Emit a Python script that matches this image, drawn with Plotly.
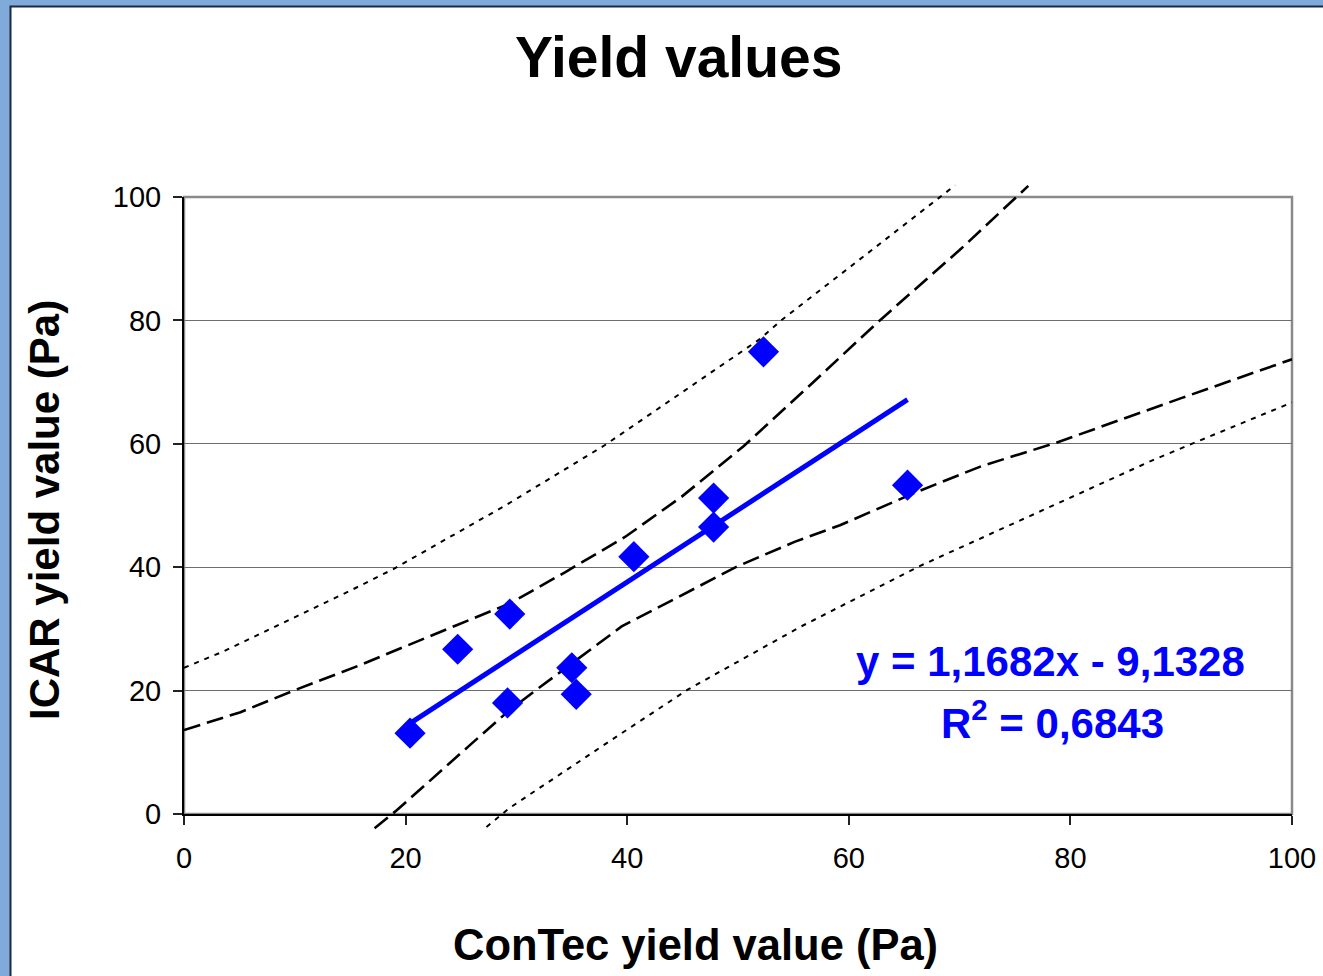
import plotly.graph_objects as go

# Measured yield values (Pa)
contec = [20.4, 24.7, 29.4, 29.2, 35.0, 35.4, 40.6, 47.8, 47.8, 52.3, 65.3]
icar = [13.1, 26.7, 32.4, 18.0, 23.7, 19.4, 41.7, 51.2, 46.5, 74.9, 53.3]

# Linear trend (as printed on the chart)
slope = 1.1682
intercept = -9.1328
r_squared = 0.6843

# Confidence band (dashed) and prediction band (dotted) curves
ci_upper_x = [0, 5.1, 9.9, 15.7, 24.6, 29.5, 34.5, 39.8, 44.9, 50.5, 56.5, 62.8, 70.0, 76.2]
ci_upper_y = [13.6, 16.5, 20.0, 24.0, 30.6, 34.2, 39.3, 44.9, 51.4, 59.6, 69.5, 80.0, 91.4, 101.8]
ci_lower_x = [17.2, 19.2, 25.7, 29.1, 31.7, 39.5, 49.9, 55.1, 59.2, 66.0, 72.0, 78.6, 90.0, 100]
ci_lower_y = [-2.3, 0.6, 11.0, 16.4, 20.0, 30.4, 40.1, 44.1, 46.8, 52.1, 56.4, 60.1, 67.4, 73.7]
pi_upper_x = [0, 3.5, 15.0, 18.9, 29.0, 38.0, 45.0, 52.0, 53.9, 60.0, 65.2, 69.6]
pi_upper_y = [23.7, 26.3, 36.2, 39.7, 50.0, 59.8, 68.4, 77.0, 80.0, 88.5, 95.7, 101.9]
pi_lower_x = [27.3, 29.4, 39.0, 45.5, 55.7, 66.3, 75.0, 87.5, 91.1, 100]
pi_lower_y = [-2.1, 1.0, 12.5, 20.2, 30.4, 40.1, 47.2, 57.4, 60.1, 66.7]

x_ticks = [0, 20, 40, 60, 80, 100]
y_ticks = [0, 20, 40, 60, 80, 100]

# Pixel geometry of the plotting frame
W, H = 1323, 976
LEFT, RIGHT, TOP, BOTTOM = 184, 1292, 197, 814
OVER = 16  # lines may run a little past the frame
area_top, area_bottom = TOP - OVER, BOTTOM + OVER
area_h = area_bottom - area_top
px_per_unit_y = (BOTTOM - TOP) / 100.0
pad = OVER / area_h

font = "Liberation Sans, Arial, sans-serif"
blue = "#0000FF"

fig = go.Figure()

# empty trace keeps the visible axes subplot alive
fig.add_trace(go.Scatter(x=[None], y=[None], xaxis="x", yaxis="y",
                         mode="markers", showlegend=False, hoverinfo="skip"))

band_styles = [
    (ci_upper_x, ci_upper_y, "17px,7px", 2.6),
    (ci_lower_x, ci_lower_y, "17px,7px", 2.6),
    (pi_upper_x, pi_upper_y, "5px,6px", 2.0),
    (pi_lower_x, pi_lower_y, "5px,6px", 2.0),
]
for bx, by, dash, w in band_styles:
    fig.add_trace(go.Scatter(
        x=bx, y=by, mode="lines", xaxis="x", yaxis="y2",
        line=dict(color="black", width=w, dash=dash),
        showlegend=False, hoverinfo="skip"))

# trend line across the data range
trend_x = sorted(contec)
trend_y = [slope * v + intercept for v in trend_x]
fig.add_trace(go.Scatter(
    x=trend_x, y=trend_y, mode="lines", xaxis="x", yaxis="y2",
    line=dict(color=blue, width=5), showlegend=False))

fig.add_trace(go.Scatter(
    x=contec, y=icar, mode="markers", xaxis="x", yaxis="y2",
    marker=dict(symbol="diamond", size=24, color=blue, line=dict(width=0)),
    showlegend=False))

y2_lo = -OVER / px_per_unit_y
y2_hi = 100 + OVER / px_per_unit_y

fig.update_layout(
    width=W, height=H, autosize=False,
    margin=dict(l=LEFT, r=W - RIGHT, t=area_top, b=H - area_bottom, pad=0,
                autoexpand=False),
    paper_bgcolor="rgb(128,170,218)",
    plot_bgcolor="rgba(0,0,0,0)",
    font=dict(family=font, color="black"),
    xaxis=dict(
        range=[0, 100], domain=[0, 1], tickvals=x_ticks,
        ticks="outside", ticklen=9, tickwidth=1.5, tickcolor="#222",
        showline=True, linecolor="black", linewidth=2,
        showgrid=False, zeroline=False, ticklabelstandoff=8,
        tickfont=dict(size=29, family=font, color="black"),
        automargin=False, anchor="y", fixedrange=True),
    yaxis=dict(
        range=[0, 100], domain=[pad, 1 - pad], tickvals=y_ticks,
        ticks="outside", ticklen=9, tickwidth=1.5, tickcolor="#222",
        showline=True, linecolor="black", linewidth=2,
        showgrid=True, gridcolor="#6e6e6e", gridwidth=1.4,
        zeroline=False, ticklabelstandoff=6,
        tickfont=dict(size=29, family=font, color="black"),
        automargin=False, anchor="x", fixedrange=True),
    yaxis2=dict(
        range=[y2_lo, y2_hi], domain=[0, 1], anchor="x",
        visible=False, showgrid=False, zeroline=False,
        automargin=False, fixedrange=True),
    showlegend=False,
)

# white chart panel with dark border, extending past the right and bottom edges
fig.add_shape(type="rect", xref="paper", yref="paper",
              x0=(10.5 - LEFT) / (RIGHT - LEFT), x1=1.08,
              y0=-0.35, y1=(area_bottom - 6.5) / area_h,
              line=dict(color="#1a2a40", width=2), fillcolor="white",
              layer="below")
# gray frame of the plotting area
fig.add_shape(type="rect", xref="x domain", yref="y domain",
              x0=0, x1=1, y0=0, y1=1,
              line=dict(color="#8a8a8a", width=2.5), fillcolor="rgba(0,0,0,0)",
              layer="below")

def ypaper(py):
    return (area_bottom - py) / area_h

def xpaper(px):
    return (px - LEFT) / (RIGHT - LEFT)

fig.add_annotation(text="<b>Yield values</b>", xref="paper", yref="paper",
                   x=xpaper(678), y=ypaper(57),
                   showarrow=False, xanchor="center", yanchor="middle",
                   font=dict(size=57, family=font, color="black"))
fig.add_annotation(text="<b>ConTec yield value (Pa)</b>", xref="paper", yref="paper",
                   x=xpaper(695), y=ypaper(945),
                   showarrow=False, xanchor="center", yanchor="middle",
                   font=dict(size=43.5, family=font, color="black"))
fig.add_annotation(text="<b>ICAR yield value (Pa)</b>", xref="paper", yref="paper",
                   x=xpaper(45), y=ypaper(510),
                   showarrow=False, xanchor="center", yanchor="middle", textangle=-90,
                   font=dict(size=42, family=font, color="black"))

eq_text = "<b>y = %sx - %s</b>" % (str(slope).replace(".", ","), str(-intercept).replace(".", ","))
r2_text = "<b>R<sup>2</sup> = %s</b>" % str(r_squared).replace(".", ",")
fig.add_annotation(text=eq_text, xref="paper", yref="paper",
                   x=xpaper(1050), y=ypaper(661),
                   showarrow=False, xanchor="center", yanchor="middle",
                   font=dict(size=42, family=font, color=blue))
fig.add_annotation(text=r2_text, xref="paper", yref="paper",
                   x=xpaper(1052), y=ypaper(720),
                   showarrow=False, xanchor="center", yanchor="middle",
                   font=dict(size=42, family=font, color=blue))

fig.write_html("out.html")
